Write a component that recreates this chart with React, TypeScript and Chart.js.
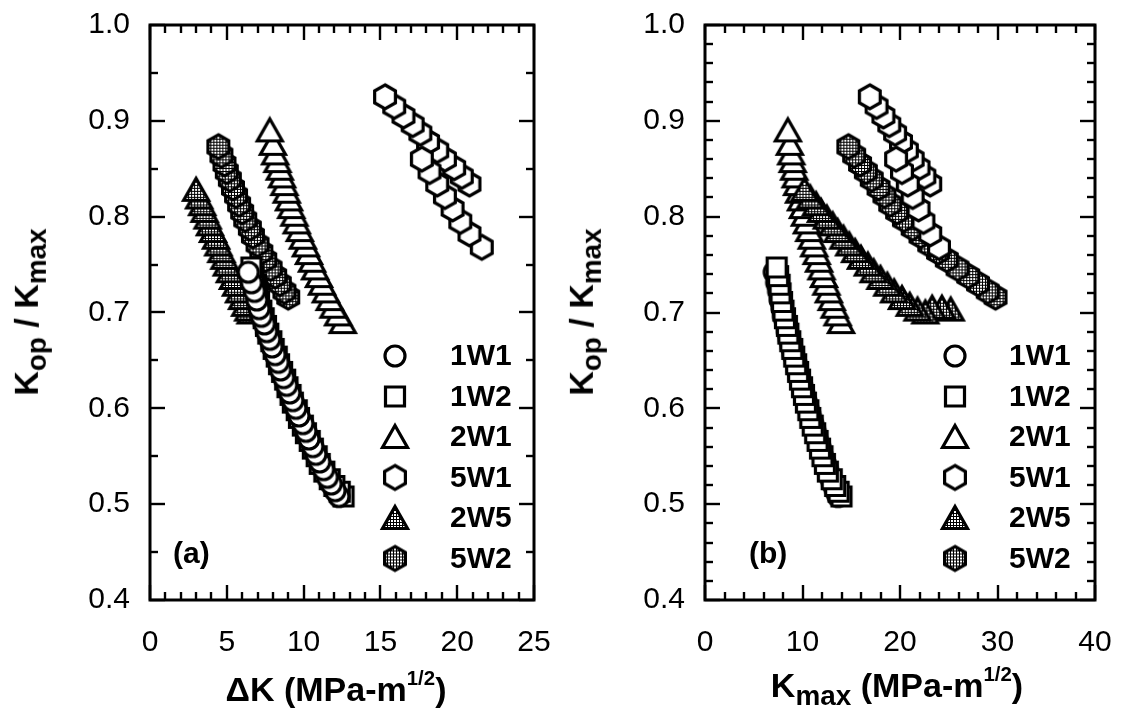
import React, { useEffect, useRef } from "react";
import { Chart, registerables } from "chart.js";

Chart.register(...registerables);

// ---------------- data (Kop/Kmax vs ΔK and Kmax) ----------------
const LEGEND_LABELS = ["1W1", "1W2", "2W1", "5W1", "2W5", "5W2"];

const Y_1W1 = [0.742, 0.731, 0.722, 0.713, 0.704, 0.696, 0.688, 0.68, 0.672, 0.664, 0.656, 0.648, 0.64, 0.632, 0.624, 0.616, 0.608, 0.6, 0.592, 0.584, 0.576, 0.568, 0.56, 0.552, 0.544, 0.536, 0.528, 0.521, 0.514, 0.508];
const DK_1W1 = [6.4, 6.6, 6.8, 6.95, 7.1, 7.25, 7.45, 7.6, 7.8, 7.95, 8.15, 8.35, 8.5, 8.7, 8.9, 9.1, 9.3, 9.5, 9.7, 9.95, 10.15, 10.35, 10.6, 10.8, 11.05, 11.3, 11.55, 11.8, 12.05, 12.3];
const KMAX_1W1 = [7.1, 7.35, 7.55, 7.7, 7.9, 8.05, 8.3, 8.45, 8.65, 8.85, 9.05, 9.3, 9.45, 9.65, 9.9, 10.1, 10.35, 10.55, 10.8, 11.05, 11.3, 11.5, 11.8, 12.0, 12.3, 12.55, 12.85, 13.1, 13.4, 13.65];

const Y_1W2 = [0.747, 0.738, 0.729, 0.72, 0.711, 0.702, 0.694, 0.686, 0.678, 0.67, 0.662, 0.654, 0.646, 0.638, 0.63, 0.622, 0.614, 0.606, 0.598, 0.59, 0.582, 0.574, 0.566, 0.558, 0.55, 0.542, 0.534, 0.526, 0.519, 0.513, 0.508];
const DK_1W2 = [6.6, 6.75, 6.9, 7.0, 7.1, 7.25, 7.4, 7.55, 7.7, 7.9, 8.05, 8.25, 8.4, 8.6, 8.8, 8.95, 9.15, 9.3, 9.55, 9.7, 9.95, 10.15, 10.4, 10.6, 10.85, 11.05, 11.35, 11.7, 12.0, 12.35, 12.6];
const KMAX_1W2 = [7.35, 7.5, 7.65, 7.75, 7.9, 8.05, 8.2, 8.4, 8.55, 8.75, 8.95, 9.15, 9.35, 9.55, 9.75, 9.95, 10.15, 10.35, 10.6, 10.8, 11.05, 11.3, 11.55, 11.8, 12.05, 12.3, 12.6, 13.0, 13.35, 13.7, 14.0];

const Y_2W1 = [0.89, 0.876, 0.866, 0.858, 0.85, 0.842, 0.834, 0.826, 0.818, 0.81, 0.802, 0.794, 0.786, 0.778, 0.77, 0.762, 0.754, 0.746, 0.738, 0.73, 0.722, 0.714, 0.706, 0.698, 0.69];
const DK_2W1 = [7.8, 8.0, 8.15, 8.3, 8.45, 8.6, 8.75, 8.9, 9.05, 9.2, 9.4, 9.55, 9.75, 9.95, 10.15, 10.35, 10.55, 10.75, 11.0, 11.2, 11.45, 11.7, 11.95, 12.25, 12.55];
const KMAX_2W1 = [8.5, 8.7, 8.85, 9.0, 9.15, 9.3, 9.45, 9.65, 9.85, 10.05, 10.25, 10.45, 10.7, 10.95, 11.2, 11.45, 11.7, 11.95, 12.2, 12.45, 12.7, 13.0, 13.3, 13.6, 13.95];

// 5W1: two test segments
const Y_5W1_A = [0.925, 0.915, 0.905, 0.896, 0.887, 0.878, 0.869, 0.86, 0.851, 0.842, 0.834];
const DK_5W1_A = [15.3, 15.9, 16.5, 17.1, 17.6, 18.1, 18.7, 19.2, 19.8, 20.3, 20.8];
const KMAX_5W1_A = [16.9, 17.6, 18.3, 18.9, 19.5, 20.1, 20.7, 21.3, 21.9, 22.5, 23.1];
const Y_5W1_B = [0.86, 0.847, 0.834, 0.821, 0.808, 0.795, 0.782, 0.768];
const DK_5W1_B = [17.7, 18.2, 18.7, 19.2, 19.7, 20.2, 20.8, 21.6];
const KMAX_5W1_B = [19.6, 20.2, 20.8, 21.3, 21.9, 22.4, 23.1, 24.0];

const Y_2W5 = [0.828, 0.82, 0.813, 0.806, 0.799, 0.792, 0.785, 0.778, 0.771, 0.764, 0.757, 0.75, 0.743, 0.736, 0.729, 0.722, 0.715, 0.708, 0.703, 0.7, 0.705, 0.705, 0.703];
const DK_2W5 = [3.0, 3.2, 3.4, 3.55, 3.75, 3.9, 4.1, 4.3, 4.45, 4.65, 4.85, 5.0, 5.2, 5.4, 5.6, 5.8, 6.0, 6.2, 6.4, 6.55, 6.7, 6.85, 7.05];
const KMAX_2W5 = [10.2, 10.8, 11.4, 11.9, 12.5, 13.1, 13.6, 14.2, 14.8, 15.4, 16.0, 16.7, 17.3, 18.0, 18.7, 19.4, 20.2, 21.0, 21.8, 22.6, 23.3, 24.3, 25.2];

const Y_5W2 = [0.873, 0.864, 0.855, 0.847, 0.839, 0.83, 0.822, 0.813, 0.805, 0.797, 0.788, 0.78, 0.771, 0.763, 0.755, 0.746, 0.738, 0.73, 0.722, 0.716];
const DK_5W2 = [4.45, 4.65, 4.85, 5.0, 5.2, 5.4, 5.6, 5.8, 6.0, 6.2, 6.5, 6.7, 7.0, 7.25, 7.5, 7.85, 8.15, 8.45, 8.75, 9.0];
const KMAX_5W2 = [14.7, 15.3, 15.9, 16.5, 17.1, 17.8, 18.4, 19.0, 19.7, 20.4, 21.3, 22.1, 23.0, 23.9, 24.8, 25.9, 27.0, 28.0, 29.0, 29.8];

const X_TICKS_A = [0, 5, 10, 15, 20, 25];
const X_TICKS_B = [0, 10, 20, 30, 40];
const Y_TICKS = [0.4, 0.5, 0.6, 0.7, 0.8, 0.9, 1.0];

// ---------------- styling helpers ----------------
const FONT = '"Liberation Sans", Arial, Helvetica, sans-serif';
type Shape = "circle" | "square" | "triangle" | "hexagon";

function tracePath(c: CanvasRenderingContext2D, shape: Shape, cx: number, cy: number) {
  c.beginPath();
  if (shape === "circle") {
    c.arc(cx, cy, 10, 0, Math.PI * 2);
  } else if (shape === "square") {
    c.rect(cx - 9.5, cy - 9.5, 19, 19);
  } else if (shape === "triangle") {
    const h = 21;
    c.moveTo(cx, cy - h / 2 - 1);
    c.lineTo(cx + 12.5, cy + h / 2);
    c.lineTo(cx - 12.5, cy + h / 2);
    c.closePath();
  } else {
    const R = 12;
    for (let k = 0; k < 6; k++) {
      const a = (-90 + k * 60) * (Math.PI / 180);
      const px = cx + R * Math.cos(a);
      const py = cy + R * Math.sin(a);
      if (k === 0) c.moveTo(px, py);
      else c.lineTo(px, py);
    }
    c.closePath();
  }
}

function makeMarker(shape: Shape, hatched: boolean): HTMLCanvasElement {
  const S = 34;
  const cv = document.createElement("canvas");
  cv.width = S;
  cv.height = S;
  const c = cv.getContext("2d")!;
  let fill: string | CanvasPattern = "#ffffff";
  if (hatched) {
    const t = document.createElement("canvas");
    t.width = 3;
    t.height = 3;
    const tc = t.getContext("2d")!;
    tc.fillStyle = "#fff";
    tc.fillRect(0, 0, 3, 3);
    tc.fillStyle = "#000";
    tc.fillRect(0, 0, 3, 1);
    tc.fillRect(0, 0, 1, 3);
    fill = c.createPattern(t, "repeat")!;
  }
  tracePath(c, shape, S / 2, S / 2);
  c.fillStyle = fill;
  c.fill();
  c.lineWidth = 3.2;
  c.lineJoin = "miter";
  c.strokeStyle = "#000";
  c.stroke();
  return cv;
}

type Markers = Record<string, HTMLCanvasElement>;

function buildMarkers(): Markers {
  return {
    "1W1": makeMarker("circle", false),
    "1W2": makeMarker("square", false),
    "2W1": makeMarker("triangle", false),
    "5W1": makeMarker("hexagon", false),
    "2W5": makeMarker("triangle", true),
    "5W2": makeMarker("hexagon", true),
  };
}

function pts(xs: number[], ys: number[]) {
  // drawn from the last point to the first so earlier points lie on top
  return xs.map((x, i) => ({ x, y: ys[i] })).reverse();
}

const framePlugin = {
  id: "frameTicks",
  afterDatasetsDraw(chart: any, _a: any, opts: any) {
    const { ctx, chartArea: a, scales } = chart;
    const xs = scales.x;
    const ys = scales.y;
    ctx.save();
    ctx.strokeStyle = "#000";
    ctx.lineWidth = 2.4;
    ctx.lineCap = "butt";
    const seg = (x1: number, y1: number, x2: number, y2: number) => {
      ctx.beginPath();
      ctx.moveTo(x1, y1);
      ctx.lineTo(x2, y2);
      ctx.stroke();
    };
    const MAJ = 15;
    const MIN = 8;
    for (let k = 0; ; k++) {
      const v = xs.min + k * opts.xMinor;
      if (v > xs.max + 1e-9) break;
      const isMaj = Math.abs(v / opts.xMajor - Math.round(v / opts.xMajor)) < 1e-6;
      const len = isMaj ? MAJ : MIN;
      const p = Math.round(xs.getPixelForValue(v));
      seg(p, a.bottom, p, a.bottom - len);
      seg(p, a.top, p, a.top + len);
    }
    for (let k = 0; ; k++) {
      const v = ys.min + k * opts.yMinor;
      if (v > ys.max + 1e-9) break;
      const isMaj = Math.abs((v - ys.min) / 0.1 - Math.round((v - ys.min) / 0.1)) < 1e-6;
      const len = isMaj ? MAJ : MIN;
      const p = Math.round(ys.getPixelForValue(v));
      seg(a.left, p, a.left + len, p);
      seg(a.right, p, a.right - len, p);
    }
    ctx.lineWidth = 3;
    ctx.strokeRect(a.left, a.top, a.right - a.left, a.bottom - a.top);

    // legend
    const markers: Markers = opts.markers;
    ctx.font = `bold 30px ${FONT}`;
    ctx.fillStyle = "#000";
    ctx.textBaseline = "middle";
    ctx.textAlign = "left";
    LEGEND_LABELS.forEach((lab, i) => {
      const y = a.top + 331 + i * 40.5;
      const img = markers[lab];
      ctx.drawImage(img, a.left + opts.legendSym - img.width / 2, y - img.height / 2);
      ctx.fillText(lab, a.left + opts.legendText, y + 1);
    });
    // panel letter
    ctx.fillText(opts.letter, a.left + opts.letterX, a.top + 530);
    ctx.restore();
  },
};

function makeConfig(panel: "a" | "b", markers: Markers): any {
  const isA = panel === "a";
  const X = (dk: number[], km: number[]) => (isA ? dk : km);
  const sets = [
    { key: "1W1", data: pts(X(DK_1W1, KMAX_1W1), Y_1W1), order: isA ? 0 : 1 },
    { key: "1W2", data: pts(X(DK_1W2, KMAX_1W2), Y_1W2), order: isA ? 1 : 0 },
    { key: "2W1", data: pts(X(DK_2W1, KMAX_2W1), Y_2W1), order: 5 },
    { key: "5W1", data: pts(X(DK_5W1_A, KMAX_5W1_A), Y_5W1_A), order: 3 },
    { key: "5W1", data: pts(X(DK_5W1_B, KMAX_5W1_B), Y_5W1_B), order: 2 },
    { key: "2W5", data: pts(X(DK_2W5, KMAX_2W5), Y_2W5), order: 4 },
    { key: "5W2", data: pts(X(DK_5W2, KMAX_5W2), Y_5W2), order: isA ? 3.5 : 4.5 },
  ];
  const xTicks = isA ? X_TICKS_A : X_TICKS_B;
  const tickFont = { family: FONT, size: 30 };
  return {
    type: "scatter",
    data: {
      datasets: sets.map((s) => ({
        label: s.key,
        data: s.data,
        order: s.order,
        pointStyle: markers[s.key],
        pointRadius: 12,
        showLine: false,
        clip: false,
      })),
    },
    options: {
      animation: false,
      responsive: false,
      maintainAspectRatio: false,
      events: [],
      layout: { padding: { left: 0, right: isA ? 26 : 27, top: 25, bottom: 0 } },
      plugins: {
        legend: { display: false },
        tooltip: { enabled: false },
        frameTicks: {
          markers,
          xMinor: isA ? 1 : 2,
          xMajor: isA ? 5 : 10,
          yMinor: isA ? 0.05 : 0.02,
          legendSym: isA ? 245 : 250,
          legendText: isA ? 300 : 304,
          letter: isA ? "(a)" : "(b)",
          letterX: isA ? 23 : 44,
        },
      },
      scales: {
        x: {
          type: "linear",
          min: xTicks[0],
          max: xTicks[xTicks.length - 1],
          grid: { display: false, drawTicks: false },
          border: { display: false },
          afterBuildTicks: (s: any) => {
            s.ticks = xTicks.map((v) => ({ value: v }));
          },
          afterFit: (s: any) => {
            s.height = 113;
            s.paddingLeft = 0;
            s.paddingRight = 0;
          },
          ticks: { font: tickFont, color: "#000", padding: 25, maxRotation: 0, autoSkip: false },
        },
        y: {
          type: "linear",
          min: Y_TICKS[0],
          max: Y_TICKS[Y_TICKS.length - 1],
          grid: { display: false, drawTicks: false },
          border: { display: false },
          afterBuildTicks: (s: any) => {
            s.ticks = Y_TICKS.map((v) => ({ value: v }));
          },
          afterFit: (s: any) => {
            s.width = isA ? 150 : 145;
            s.paddingTop = 0;
            s.paddingBottom = 0;
          },
          ticks: {
            font: tickFont,
            color: "#000",
            padding: 20,
            autoSkip: false,
            callback: (v: number) => Number(v).toFixed(1),
          },
        },
      },
    },
    plugins: [framePlugin],
  };
}

const titleBase: React.CSSProperties = {
  position: "absolute",
  whiteSpace: "nowrap",
  font: `bold 34px ${FONT}`,
  color: "#000",
  lineHeight: 1,
};
const subStyle: React.CSSProperties = { fontSize: "0.82em", verticalAlign: "-0.3em" };
const supStyle: React.CSSProperties = { fontSize: "0.6em", verticalAlign: "0.8em" };

function YTitle({ cx }: { cx: number }) {
  return (
    <div style={{ ...titleBase, left: cx, top: 312, transform: "translate(-50%, -50%) rotate(-90deg)" }}>
      K<span style={subStyle}>op</span> / K<span style={subStyle}>max</span>
    </div>
  );
}

export default function App() {
  const refA = useRef<HTMLCanvasElement>(null);
  const refB = useRef<HTMLCanvasElement>(null);
  useEffect(() => {
    const markers = buildMarkers();
    const ca = new Chart(refA.current!, makeConfig("a", markers));
    const cb = new Chart(refB.current!, makeConfig("b", markers));
    return () => {
      ca.destroy();
      cb.destroy();
    };
  }, []);
  return (
    <div style={{ position: "fixed", left: 0, top: 0, width: 1122, height: 713, background: "#fff", overflow: "hidden" }}>
      <canvas ref={refA} width={560} height={713} style={{ position: "absolute", left: 0, top: 0 }} />
      <canvas ref={refB} width={562} height={713} style={{ position: "absolute", left: 560, top: 0 }} />
      <YTitle cx={30} />
      <YTitle cx={585} />
      <div style={{ ...titleBase, left: 336, top: 687, transform: "translate(-50%, -50%)" }}>
        ΔK (MPa-m<span style={supStyle}>1/2</span>)
      </div>
      <div style={{ ...titleBase, left: 897, top: 687, transform: "translate(-50%, -50%)" }}>
        K<span style={subStyle}>max</span> (MPa-m<span style={supStyle}>1/2</span>)
      </div>
    </div>
  );
}
